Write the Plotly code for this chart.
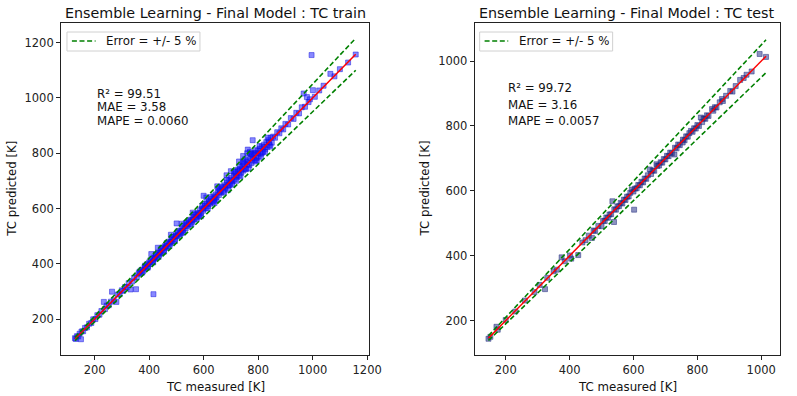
import plotly.graph_objects as go

# ---------------- data ----------------
train_measured = [
    128, 131, 135, 140, 145, 150, 152, 158, 165, 172, 180, 188, 195, 203, 210, 218, 225, 234, 238, 245,
    252, 260, 264, 270, 280, 285, 292, 300,
    305, 312, 318, 325, 332, 338, 345, 352, 355, 362, 368, 372, 378, 383, 388, 392, 396, 400, 404, 408,
    410, 414, 416, 418, 422, 426, 430, 432, 434, 438, 442, 446, 450, 454, 458, 462, 466, 470, 474, 478,
    482, 486, 490, 494, 498, 501, 504,
    506, 510, 514, 518, 522, 526, 530, 534, 538, 542, 546, 550, 554, 558, 562, 566, 570, 574, 578, 582,
    586, 590, 594, 598, 600, 604, 608, 612, 616, 620, 624, 628, 632, 636, 640, 644, 648, 652, 656, 660,
    664, 668, 672, 676, 680, 684, 686, 690, 694, 698, 702, 706, 710, 714, 718, 722, 726, 730, 734, 738,
    742, 746, 750, 754, 758, 762, 764, 768, 772, 776, 780, 782, 786, 790, 794, 798, 802, 806, 810, 814,
    818, 822, 826, 830, 834, 838, 842, 846, 850,
    420, 440, 460, 480, 500, 520, 540, 560, 580, 600, 620, 640, 660, 680, 700, 720, 740, 760, 780, 800,
    820, 840, 515, 545, 575, 605, 635, 665, 695, 725, 755, 785, 815, 744, 752, 770, 776, 792, 732, 712,
    365, 375, 385, 395, 405, 415, 425, 435, 445, 455, 465, 475, 485, 495, 505, 525, 535, 555, 565, 585,
    595, 615, 625, 645, 655, 675, 685, 705, 715, 735, 745, 765, 775, 795, 805, 825, 835, 845, 745, 760,
    770, 730, 700, 650, 610, 560, 520, 480, 790, 810, 720, 690, 640, 590,
    855, 862, 870, 878, 885, 892, 900, 910, 920, 930, 940, 950, 960, 967, 972, 979, 985, 990, 996, 1001,
    1008, 1024, 1040, 1065, 1080, 1100, 1130, 1158,
]
train_predicted = [
    131, 128, 138, 137, 147, 127, 155, 156, 168, 170, 183, 186, 199, 200, 214, 216, 229, 262, 236, 249,
    250, 263, 299, 268, 262, 289, 290, 304,
    302, 316, 315, 330, 307, 336, 349, 308, 352, 366, 364, 378, 374, 388, 385, 398, 391, 405, 399, 435,
    412, 408, 290, 423, 418, 431, 426, 458, 440, 433, 447, 441, 456, 449, 464, 458, 471, 465, 480, 473,
    488, 481, 497, 489, 503, 546, 499,
    512, 505, 520, 512, 528, 521, 537, 528, 543, 536, 553, 545, 560, 552, 569, 560, 577, 568, 584, 576,
    594, 584, 600, 592, 646, 611, 602, 618, 609, 628, 617, 634, 626, 644, 633, 651, 641, 660, 649, 668,
    657, 676, 664, 684, 672, 720, 694, 683, 702, 690, 710, 698, 719, 705, 727, 713, 735, 721, 743, 729,
    752, 737, 760, 744, 768, 813, 774, 757, 782, 765, 847, 792, 775, 800, 783, 808, 790, 816, 798, 824,
    806, 831, 814, 840, 822, 847, 830, 856, 838,
    421, 439, 461, 479, 501, 519, 541, 559, 581, 599, 621, 639, 661, 679, 701, 719, 741, 759, 781, 799,
    821, 839, 508, 556, 563, 618, 624, 679, 683, 740, 742, 800, 802, 770, 778, 800, 796, 812, 752, 732,
    372, 368, 393, 386, 413, 405, 434, 425, 455, 444, 475, 464, 496, 483, 517, 513, 548, 542, 579, 571,
    610, 600, 641, 629, 672, 658, 703, 687, 734, 716, 765, 745, 796, 774, 826, 804, 856, 824, 790, 800,
    805, 770, 735, 680, 640, 585, 545, 505, 770, 785, 700, 668, 620, 572,
    860, 856, 876, 872, 890, 886, 906, 904, 927, 924, 946, 944, 966, 1016, 968, 1003, 985, 995, 1155, 1028,
    1004, 1027, 1044, 1087, 1078, 1104, 1128, 1157,
]

test_measured = [
    146, 152, 171, 175, 200, 230, 260, 290, 306, 323, 330, 350, 360, 375, 385, 401, 405, 427, 440, 450,
    460, 470, 475, 480, 490, 500, 505, 510, 515, 520, 525, 530, 534, 539, 540, 545, 550, 555, 560, 565,
    570, 575, 580, 585, 590, 595, 600, 602, 605, 610, 615, 620, 625, 630, 635, 640, 645, 651, 655, 660,
    665, 672, 675, 680, 685, 690, 695, 700, 705, 710, 715, 720, 728, 730, 735, 740, 745, 754, 755, 760,
    765, 770, 775, 780, 785, 790, 795, 800, 805, 811, 815, 820, 825, 830, 835, 846, 850, 855, 860, 870,
    877, 880, 890, 903, 910, 920, 934, 945, 954, 970, 995, 1015,
]
test_predicted = [
    144, 150, 181, 172, 202, 228, 262, 288, 310, 297, 332, 352, 357, 395, 383, 401, 391, 402, 441, 448,
    462, 455, 478, 476, 492, 491, 508, 507, 518, 517, 527, 528, 568, 504, 543, 542, 552, 553, 563, 561,
    573, 572, 582, 583, 594, 604, 598, 542, 607, 608, 618, 617, 628, 626, 638, 637, 648, 666, 652, 663,
    662, 682, 677, 678, 688, 687, 698, 697, 708, 707, 718, 716, 712, 733, 731, 743, 741, 749, 758, 756,
    768, 767, 778, 785, 782, 793, 792, 803, 800, 826, 812, 823, 822, 833, 831, 852, 847, 858, 857, 873,
    883, 877, 893, 908, 906, 923, 942, 948, 958, 968, 1022, 1013,
]

titles = ["Ensemble Learning - Final Model : TC train", "Ensemble Learning - Final Model : TC test"]
stats_train = ["R\u00b2 = 99.51", "MAE = 3.58", "MAPE = 0.0060"]
stats_test = ["R\u00b2 = 99.72", "MAE = 3.16", "MAPE = 0.0057"]
legend_label = "Error = +/- 5 %"
x_label = "TC measured [K]"
y_label = "TC predicted [K]"
train_ticks = [200, 400, 600, 800, 1000, 1200]
test_ticks = [200, 400, 600, 800, 1000]

# ---------------- figure ----------------
FONT = "DejaVu Sans"
W, H = 797, 396
fig = go.Figure()


def px(xp):
    return xp / W


def py(yp):
    return (H - yp) / H


def add_panel(measured, predicted, xa, ya, color, edge):
    lo, hi = min(measured), max(measured)
    fig.add_trace(go.Scatter(
        x=measured, y=predicted, mode="markers", xaxis=xa, yaxis=ya, showlegend=False,
        marker=dict(symbol="square", size=5, color=color, line=dict(color=edge, width=0.8)),
        hoverinfo="x+y"))
    fig.add_trace(go.Scatter(
        x=[lo, hi], y=[lo, hi], mode="lines", xaxis=xa, yaxis=ya, showlegend=False,
        line=dict(color="red", width=1.5)))
    fig.add_trace(go.Scatter(
        x=[lo, hi], y=[lo * 1.05, hi * 1.05], mode="lines", xaxis=xa, yaxis=ya,
        name=legend_label, showlegend=False,
        line=dict(color="green", width=1.6, dash="5px,2.6px")))
    fig.add_trace(go.Scatter(
        x=[lo, hi], y=[lo * 0.95, hi * 0.95], mode="lines", xaxis=xa, yaxis=ya, showlegend=False,
        line=dict(color="green", width=1.6, dash="5px,2.6px")))


add_panel(train_measured, train_predicted, "x", "y",
          "rgba(20,20,255,0.5)", "rgba(20,20,220,0.6)")
add_panel(test_measured, test_predicted, "x2", "y2",
          "rgba(25,35,130,0.5)", "rgba(25,35,120,0.6)")

axis_common = dict(showline=True, mirror=True, linecolor="#222", linewidth=1,
                   ticks="outside", ticklen=4, tickwidth=1, tickcolor="#222",
                   showgrid=False, zeroline=False,
                   tickfont=dict(family=FONT, size=11.5, color="#222"))

fig.update_layout(
    width=W, height=H, margin=dict(l=0, r=0, t=0, b=0),
    paper_bgcolor="white", plot_bgcolor="white", showlegend=False,
    font=dict(family=FONT, size=11.5, color="#222"),
    xaxis=dict(domain=[px(62), px(375)], range=[77, 1208], tickvals=train_ticks,
               anchor="y", **axis_common),
    yaxis=dict(domain=[py(355), py(23)], range=[70, 1271], tickvals=train_ticks,
               anchor="x", **axis_common),
    xaxis2=dict(domain=[px(482), px(792)], range=[103, 1059], tickvals=test_ticks,
                anchor="y2", **axis_common),
    yaxis2=dict(domain=[py(355), py(23)], range=[94, 1117.5], tickvals=test_ticks,
                anchor="x2", **axis_common),
)

# titles and axis labels
for cx, t in zip([(62 + 375) / 2, (482 + 792) / 2], titles):
    fig.add_annotation(x=px(cx), y=py(13), xref="paper", yref="paper", text=t, showarrow=False,
                       xanchor="center", yanchor="middle", font=dict(family=FONT, size=14.3, color="#111"))
for cx in [(62 + 375) / 2, (482 + 792) / 2]:
    fig.add_annotation(x=px(cx), y=py(387), xref="paper", yref="paper", text=x_label, showarrow=False,
                       xanchor="center", yanchor="middle", font=dict(family=FONT, size=11.8, color="#111"))
for cx in [12, 431]:
    fig.add_annotation(x=px(cx), y=py(189), xref="paper", yref="paper", text=y_label, showarrow=False,
                       textangle=-90, xanchor="center", yanchor="middle",
                       font=dict(family=FONT, size=11.8, color="#111"))

# legends (box, dashed sample, label)
for x0, x1 in [(68, 203), (487, 622)]:
    fig.add_shape(type="rect", xref="paper", yref="paper", x0=px(x0), x1=px(x1), y0=py(51), y1=py(32),
                  line=dict(color="#d0d0d0", width=1), fillcolor="rgba(255,255,255,0.85)", layer="above")
    fig.add_shape(type="line", xref="paper", yref="paper", x0=px(x0 + 5), x1=px(x0 + 29), y0=py(41), y1=py(41),
                  line=dict(color="green", width=1.6, dash="5px,2.6px"), layer="above")
    fig.add_annotation(x=px(x0 + 38), y=py(41), xref="paper", yref="paper", text=legend_label,
                       showarrow=False, xanchor="left", yanchor="middle",
                       font=dict(family=FONT, size=11.8, color="#111"))

# statistics text
for txt, yv in zip(stats_train, [1013, 966, 916]):
    fig.add_annotation(x=200, y=yv, xref="x", yref="y", text=txt, showarrow=False,
                       xanchor="left", yanchor="middle", font=dict(family=FONT, size=11.8, color="#111"))
for txt, yv in zip(stats_test, [917, 864, 815]):
    fig.add_annotation(x=200, y=yv, xref="x2", yref="y2", text=txt, showarrow=False,
                       xanchor="left", yanchor="middle", font=dict(family=FONT, size=11.8, color="#111"))

fig.write_html("out.html", config={"displayModeBar": False},
               post_script="document.body.style.margin='0';document.body.style.padding='0';")
